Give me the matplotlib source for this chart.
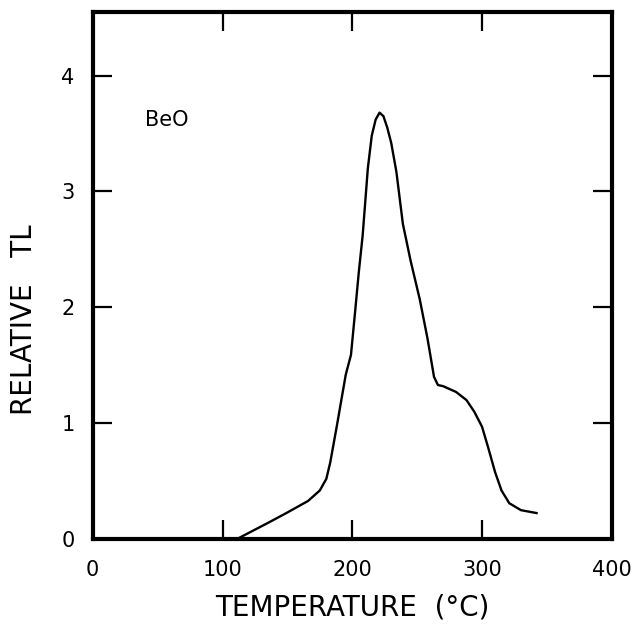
import matplotlib.pyplot as plt
import numpy as np

#%% Data
temperature = [111, 135, 150, 166, 175, 180, 183, 188, 195, 199, 202, 205, 208, 212,
               215, 218, 221, 224, 227, 230, 234, 239, 245, 252, 258, 263, 266,
               270, 280, 288, 294, 300, 305, 310, 315, 321, 330, 342]
relative_tl = [0.0, 0.14, 0.23, 0.33, 0.42, 0.52, 0.66, 0.97, 1.42, 1.59, 1.94, 2.30, 2.62, 3.20,
               3.48, 3.62, 3.68, 3.65, 3.55, 3.42, 3.17, 2.72, 2.40, 2.07, 1.73, 1.40, 1.33,
               1.32, 1.27, 1.20, 1.10, 0.97, 0.78, 0.58, 0.42, 0.31, 0.25, 0.225]

x_ticks = [0, 100, 200, 300, 400]
y_ticks = [0, 1, 2, 3, 4]
sample_label = 'BeO'

#%% Plot
fig = plt.figure(figsize=(6.44, 6.24), dpi=100)
ax = fig.add_axes([0.144, 0.136, 0.806, 0.845])

ax.plot(temperature, relative_tl, color='black', lw=1.7, solid_joinstyle='round')

ax.set_xlim(0, 400)
ax.set_ylim(0, 4.55)
ax.set_xticks(x_ticks)
ax.set_yticks(y_ticks)
ax.tick_params(direction='in', length=14, width=1.6, top=True, right=True,
               labelsize=15, colors='black')
ax.tick_params(axis='x', pad=15)
ax.tick_params(axis='y', pad=13)
for s in ax.spines.values():
    s.set_linewidth(3)

ax.text(40, 3.62, sample_label, fontsize=15, va='center', ha='left')

ax.set_xlabel('TEMPERATURE  (°C)', fontsize=20, labelpad=10)
ax.set_ylabel('RELATIVE   TL', fontsize=20)
ax.yaxis.set_label_coords(-0.106, 0.417)

fig.savefig('out.png', dpi=100)
